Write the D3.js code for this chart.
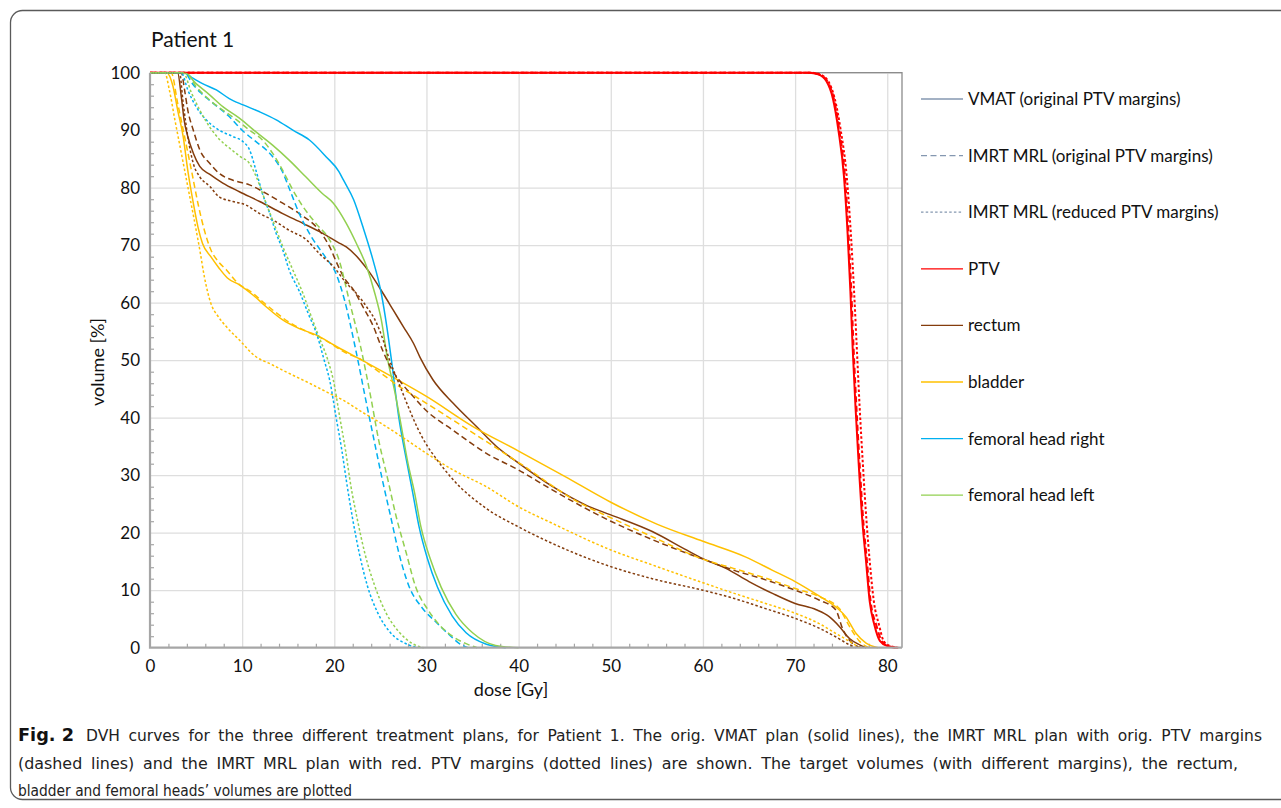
<!DOCTYPE html>
<html>
<head>
<meta charset="utf-8">
<script src="https://cdn.jsdelivr.net/npm/d3@7"></script>
<style>
  body { margin: 0; background: #fff; }
  svg { display: block; }
</style>
</head>
<body>
<svg id="chart" width="1281" height="808"></svg>
<script>
// dose [Gy] / volume [%] pairs
const ptvVmat = [[0,100],[71.5,100],[72.5,99.7],[73.4,98.5],[74.1,95.5],[74.7,90],[75.3,82],[75.7,72],[76,62],[76.25,52],[76.55,42],[76.9,32],[77.3,22],[77.7,15],[78.1,8],[78.6,4],[79.2,1.2],[80,0.3],[81,0]];
const ptvImrt = [[0,100],[71.6,100],[72.6,99.7],[73.5,98.5],[74.2,95.5],[74.8,90],[75.4,82],[75.8,72],[76.1,62],[76.35,52],[76.65,42],[77,32],[77.4,22],[77.8,15],[78.2,8],[78.8,4],[79.4,1.2],[80.1,0.3],[81,0]];
const ptvReduced = [[0,100],[71.7,100],[72.7,99.7],[73.6,98.5],[74.3,95.5],[74.95,90],[75.6,82],[76.05,72],[76.4,62],[76.7,52],[77,42],[77.35,32],[77.75,22],[78.1,15],[78.55,8],[79.1,4],[79.6,1.2],[80.3,0.3],[81.2,0]];

const rectumVmat = [[0,100],[3,100],[3.4,95.8],[3.7,91.8],[4.1,88.9],[4.7,86],[5.4,83.7],[6.5,82.3],[7.9,80.8],[9.7,79.3],[11.9,77.6],[14.4,75.5],[16.6,73.8],[18.7,72.1],[20.4,70.5],[21.3,69.7],[22.8,67.4],[23.9,65.1],[25.3,61.6],[26.4,58.7],[27.5,55.8],[28.6,52.9],[29.3,50.5],[30.7,46.6],[32.9,42.5],[35.4,38.5],[37.6,35],[40,32.1],[43.7,28],[47.3,24.8],[50,23.1],[54.5,20.2],[58.2,17],[60,15.5],[62.5,13.8],[65,11.5],[67.6,9.4],[70,7.7],[72.3,6.6],[73.7,5.4],[74.8,3.7],[75.9,1.6],[77,0.5],[77.7,0]];
const rectumImrt = [[0,100],[3.4,100],[3.75,97],[4.1,93.5],[4.7,90],[5.4,86.6],[6.5,84.2],[7.5,82.5],[9,81.3],[10.8,80.5],[12.6,79],[14.4,77.3],[16.2,75.5],[18.4,72.5],[19.5,69.7],[20.3,66.8],[21,64.5],[22.1,62.2],[23.1,59.3],[24.2,56],[25.3,51.5],[26.2,48.5],[27.3,46],[28.5,43.8],[30,41.2],[32.9,37.8],[36.5,33.8],[40,30.9],[43.7,27.4],[50,22],[54.5,18.8],[60,15.4],[63.3,13.5],[66.8,11.8],[70,10],[72.6,8.3],[74.4,6.6],[75.2,3.1],[76.2,0.8],[77.3,0]];
const rectumReduced = [[0,100],[3.2,100],[3.6,94.7],[4.1,88.9],[4.7,84.2],[5.4,81.9],[6.5,80.2],[7.5,78.4],[9,77.6],[10.4,77],[11.9,75.5],[13.3,74.4],[15.1,72.6],[17,70.9],[18.4,68.5],[19.9,66.3],[21.3,63.4],[22.4,61.6],[23.5,59.3],[24.6,56.4],[25.3,53.5],[26,50],[27,46],[28,42],[29,38.3],[30,35.3],[31,33],[32.9,29.2],[36.5,24.2],[40,21],[43.7,18.1],[50,14.1],[54.5,12],[60,10],[63.3,8.6],[66.8,6.8],[70,5.1],[72.6,3.4],[74.4,1.9],[75.9,0.5],[76.6,0]];

const bladderVmat = [[0,100],[1.8,100],[2.5,97.6],[3,93.5],[3.6,88.9],[4.1,83],[4.7,77.3],[5.2,73.2],[5.7,70.3],[6.6,68],[7.5,66],[8.4,64.3],[9.7,63.1],[11.2,61.3],[12.6,59.3],[14.4,57],[16.2,55.5],[18,54.4],[20,52.6],[23,50],[26.4,47],[30,43.7],[35,38.5],[40,34.2],[45,29.8],[50,25.3],[55,21.5],[60,18.5],[64.6,15.8],[67.5,13.5],[70,11.5],[72.6,9],[74.4,7.1],[75.5,5.4],[76.6,2.5],[77.7,0.8],[79,0]];
const bladderImrt = [[0,100],[2.3,100],[3,94.7],[3.75,88.9],[4.5,83],[5.2,77.3],[5.9,72.6],[6.6,69.2],[7.5,67],[8.3,65.7],[9.4,63.6],[11.2,61.6],[12.2,60.2],[13.5,58.5],[15,56.7],[17,55],[19,53.5],[21,51.5],[23,50],[25,47.8],[27,45.5],[30,42.5],[35,37.4],[40,32.2],[46.6,25.2],[50,22.6],[54.5,19.3],[60,15.4],[63.3,13.8],[66.8,12.1],[70,10.3],[72.6,8.9],[74.8,6.8],[75.9,3.7],[77,1.1],[78,0]];
const bladderReduced = [[0,100],[1.6,100],[2.1,97],[2.7,91.8],[3.4,86],[4.1,80.2],[4.8,74.4],[5.4,69.2],[5.9,64.5],[6.6,59.9],[7.4,57.6],[8.3,55.8],[9.7,53.5],[11.5,50.6],[13,49.4],[15.1,47.7],[17.3,46],[19.5,44.2],[21,43],[23,41],[25,39.1],[27.5,36.5],[30,33.8],[32.9,30.9],[36.5,28],[40,24.5],[43.7,21.6],[50,17],[54.5,14.4],[60,11.3],[63.3,9.5],[66.8,7.7],[70,6],[72.6,4.2],[74.4,2.5],[75.9,1.1],[77,0]];

const femRightVmat = [[0,100],[3.6,100],[4.7,99],[5.7,98.1],[7.2,97],[8.6,95.5],[10.1,94.4],[11.9,93.2],[13.7,91.8],[15.5,90],[17.3,88.3],[19.1,85.4],[20.5,82.8],[21,81.3],[22.1,77.9],[23.1,73.2],[24.2,67.4],[25.1,61.6],[25.7,55.8],[26.2,50],[27,40],[27.9,32],[28.5,27],[29.2,21],[30.1,15.5],[31.2,10.5],[32.8,5.5],[34.3,2.6],[36.5,0.6],[38.6,0]];
const femRightImrt = [[0,100],[3.8,100],[4.5,98.3],[5.5,96.5],[7,94.5],[8.5,92.5],[10,90],[11.5,88],[12.6,86.6],[13.5,85],[14.3,83],[15.2,79.5],[16.2,75.5],[17.5,71.5],[19,68],[20.2,65],[21.1,60.5],[22.3,52],[23.4,43.2],[24.3,36.2],[25.2,29.3],[26.1,22.9],[27,16.5],[28.1,10.7],[29.5,7],[31,4.5],[32.5,2.2],[33.5,0.8],[34.5,0]];
const femRightReduced = [[0,100],[3.4,100],[4.1,97],[5,94.1],[6.1,91.8],[7.5,90],[9,88.9],[10.1,88],[10.8,86.6],[11.5,83],[12.2,79],[13,75.5],[13.7,72],[14.4,69.2],[15.1,65.7],[16.2,62],[17.2,58],[18.1,54.5],[18.9,50],[19.5,46.5],[20.2,40],[20.8,34.5],[21.4,28.1],[22,22.3],[22.7,16.5],[23.6,10.7],[24.7,6.1],[26.1,2.6],[27.9,0.6],[29,0]];

const femLeftVmat = [[0,100],[3.7,100],[5,98.1],[6.5,96.1],[7.9,94.1],[9.7,92.1],[11.5,89.7],[13.3,87.4],[15.1,84.8],[16.9,81.9],[18.7,79],[19.9,77.3],[21.3,73.8],[22.4,70.3],[23.5,66.3],[24.4,61.6],[25.1,57],[25.8,50],[26.5,45],[27.1,40],[28,32],[28.7,27],[29.4,21],[30.4,15.5],[31.6,10.5],[33.2,5.8],[35,2.6],[37.5,0.4],[40,0]];
const femLeftImrt = [[0,100],[3.9,100],[5,97.6],[6.5,95.2],[7.9,93.5],[9.4,91.8],[10.8,90],[12.2,88.3],[13.3,86],[14.4,83],[15.5,79.6],[16.6,76.7],[18,73.8],[19.5,70.9],[20.5,67.5],[21.6,60.5],[22.9,52],[24,43.2],[24.8,36.2],[25.8,29.3],[26.7,22.9],[27.8,16.5],[28.8,10.7],[30.2,6.5],[31.5,3.8],[33,1.8],[34.3,0.7],[35.5,0]];
const femLeftReduced = [[0,100],[3.6,100],[4.5,96.5],[5.4,93.5],[6.5,90.5],[7.6,88.3],[8.7,86.8],[9.8,85.4],[10.8,84.2],[11.5,82],[12.6,77.3],[13.3,74.4],[14.4,69.8],[15.5,65.7],[16.6,61.6],[17.5,57.6],[18.3,54.2],[19.3,50],[19.9,46.5],[20.6,40],[21.2,34.5],[21.8,28.1],[22.5,22.3],[23.3,16.5],[24.4,10.7],[25.6,6.1],[27.1,2.6],[28.6,0.6],[29.7,0]];

const planLabels = ['VMAT (original PTV margins)', 'IMRT MRL (original PTV margins)', 'IMRT MRL (reduced PTV margins)'];
const structureLabels = ['PTV', 'rectum', 'bladder', 'femoral head right', 'femoral head left'];
const xTicks = [0, 10, 20, 30, 40, 50, 60, 70, 80];
const yTicks = [0, 10, 20, 30, 40, 50, 60, 70, 80, 90, 100];

// styles
const structureColors = { 'PTV': '#ff0000', 'rectum': '#843c0c', 'bladder': '#ffc000', 'femoral head right': '#00b0f0', 'femoral head left': '#92d050' };
const planDash = [null, '6,3.5', '2.5,2.2'];
const planKeyColor = '#8497b0';

const curves = [
    [ptvVmat, rectumVmat, bladderVmat, femRightVmat, femLeftVmat],
    [ptvImrt, rectumImrt, bladderImrt, femRightImrt, femLeftImrt],
    [ptvReduced, rectumReduced, bladderReduced, femRightReduced, femLeftReduced]
];

const svg = d3.select('#chart');
const chartFont = 'Lato, "Open Sans", sans-serif';

// outer figure frame
svg.append('rect')
    .attr('x', 10.5).attr('y', 10.5)
    .attr('width', 1300).attr('height', 789)
    .attr('rx', 12)
    .attr('fill', 'none')
    .attr('stroke', '#5a5a5a')
    .attr('stroke-width', 1.3);

const plot = { left: 150, right: 902, top: 72.7, bottom: 647.7 };

const x = d3.scaleLinear().domain([0, 81.6]).range([plot.left, plot.right]);
const y = d3.scaleLinear().domain([0, 100]).range([plot.bottom, plot.top]);

// gridlines
svg.append('g')
    .attr('transform', `translate(0,${plot.bottom})`)
    .call(d3.axisBottom(x).tickValues(xTicks.slice(1)).tickSize(-(plot.bottom - plot.top)).tickFormat(''))
    .call(g => g.select('.domain').remove())
    .call(g => g.selectAll('line').attr('stroke', '#dedede').attr('stroke-width', 1.3));

svg.append('g')
    .attr('transform', `translate(${plot.left},0)`)
    .call(d3.axisLeft(y).tickValues(yTicks.slice(1)).tickSize(-(plot.right - plot.left)).tickFormat(''))
    .call(g => g.select('.domain').remove())
    .call(g => g.selectAll('line').attr('stroke', '#dedede').attr('stroke-width', 1.3));

// plot border (top / right)
svg.append('path')
    .attr('d', `M${plot.left},${plot.top}H${plot.right}V${plot.bottom}`)
    .attr('fill', 'none')
    .attr('stroke', '#8c8c8c')
    .attr('stroke-width', 1.3);

// minor ticks, pointing inward
const xMinor = d3.range(2, 81.6, 2).filter(d => d % 10 !== 0);
const yMinor = d3.range(2, 100, 2).filter(d => d % 10 !== 0);

svg.append('g')
    .attr('transform', `translate(0,${plot.bottom})`)
    .call(d3.axisBottom(x).tickValues(xMinor).tickSize(-4).tickFormat(''))
    .call(g => g.select('.domain').remove())
    .call(g => g.selectAll('line').attr('stroke', '#a6a6a6').attr('stroke-width', 1.2));

svg.append('g')
    .attr('transform', `translate(${plot.left},0)`)
    .call(d3.axisLeft(y).tickValues(yMinor).tickSize(-4).tickFormat(''))
    .call(g => g.select('.domain').remove())
    .call(g => g.selectAll('line').attr('stroke', '#a6a6a6').attr('stroke-width', 1.2));

// DVH curves
const line = d3.line()
    .x(d => x(d[0]))
    .y(d => y(d[1]))
    .curve(d3.curveMonotoneX);

const curveLayer = svg.append('g');
curves.forEach((planCurves, p) => {
    planCurves.forEach((points, s) => {
        const name = structureLabels[s];
        curveLayer.append('path')
            .datum(points)
            .attr('d', line)
            .attr('fill', 'none')
            .attr('stroke', structureColors[name])
            .attr('stroke-width', name === 'PTV' ? 2 : 1.5)
            .attr('stroke-dasharray', planDash[p]);
    });
});

// axis lines
svg.append('path')
    .attr('d', `M${plot.left},${plot.top}V${plot.bottom}H${plot.right}`)
    .attr('fill', 'none')
    .attr('stroke', '#a6a6a6')
    .attr('stroke-width', 2.2);

// tick labels
svg.append('g')
    .attr('transform', `translate(0,${plot.bottom})`)
    .call(d3.axisBottom(x).tickValues(xTicks).tickSize(0).tickPadding(12))
    .call(g => g.select('.domain').remove())
    .call(g => g.selectAll('text').attr('font-family', chartFont).attr('font-size', 17).attr('fill', '#111'));

svg.append('g')
    .attr('transform', `translate(${plot.left},0)`)
    .call(d3.axisLeft(y).tickValues(yTicks).tickSize(0).tickPadding(10))
    .call(g => g.select('.domain').remove())
    .call(g => g.selectAll('text').attr('font-family', chartFont).attr('font-size', 17).attr('fill', '#111'));

// titles
svg.append('text')
    .attr('x', 151).attr('y', 47)
    .attr('font-family', chartFont).attr('font-size', 21).attr('fill', '#111')
    .text('Patient 1');

svg.append('text')
    .attr('x', 511).attr('y', 696)
    .attr('text-anchor', 'middle')
    .attr('font-family', chartFont).attr('font-size', 18).attr('fill', '#111')
    .text('dose [Gy]');

svg.append('text')
    .attr('transform', 'translate(104,362) rotate(-90)')
    .attr('text-anchor', 'middle')
    .attr('font-family', chartFont).attr('font-size', 18).attr('fill', '#111')
    .text('volume [%]');

// legend
const legendItems = planLabels.map((label, i) => ({ label, color: planKeyColor, dash: planDash[i] }))
    .concat(structureLabels.map(label => ({ label, color: structureColors[label], dash: null })));

const legend = svg.append('g').selectAll('g')
    .data(legendItems)
    .enter()
    .append('g')
    .attr('transform', (d, i) => `translate(921,${99 + i * 56.6})`);

legend.append('line')
    .attr('x1', 0).attr('x2', 42)
    .attr('stroke', d => d.color)
    .attr('stroke-width', 1.3)
    .attr('stroke-dasharray', d => d.dash);

legend.append('text')
    .attr('x', 47).attr('dy', '0.35em')
    .attr('font-family', chartFont).attr('font-size', 17).attr('fill', '#111')
    .text(d => d.label);

// caption, justified to the widths seen in the figure
const captionFont = '"DejaVu Sans Condensed", "Liberation Sans Narrow", sans-serif';
const captionLines = [
    { x: 86, y: 741, w: 1176, ws: 3.5, t: 'DVH curves for the three different treatment plans, for Patient 1. The orig. VMAT plan (solid lines), the IMRT MRL plan with orig. PTV margins' },
    { x: 18, y: 769, w: 1220, ws: 3.5, t: '(dashed lines) and the IMRT MRL plan with red. PTV margins (dotted lines) are shown. The target volumes (with different margins), the rectum,' },
    { x: 18, y: 796, w: 334, ws: 0, t: 'bladder and femoral heads\u2019 volumes are plotted' }
];

svg.append('text')
    .attr('x', 18).attr('y', 741)
    .attr('font-family', captionFont).attr('font-size', 17).attr('font-weight', 'bold')
    .attr('fill', '#111')
    .attr('textLength', 56).attr('lengthAdjust', 'spacingAndGlyphs')
    .text('Fig. 2');

svg.append('g').selectAll('text')
    .data(captionLines)
    .enter()
    .append('text')
    .attr('x', d => d.x).attr('y', d => d.y)
    .attr('font-family', captionFont).attr('font-size', 16.5).attr('fill', '#222')
    .attr('word-spacing', d => d.ws)
    .attr('textLength', d => d.w)
    .attr('lengthAdjust', 'spacingAndGlyphs')
    .text(d => d.t);
</script>
</body>
</html>
